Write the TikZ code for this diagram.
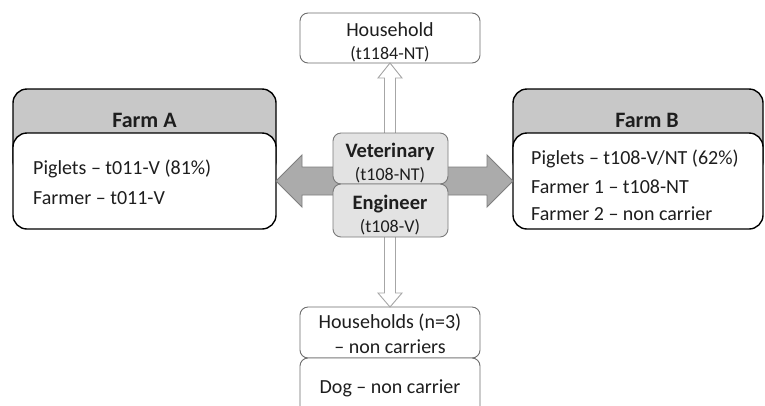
\documentclass[tikz,border=0pt]{standalone}
\usepackage{fontspec}
\setmainfont{Carlito}
\usetikzlibrary{calc}
\definecolor{headgray}{HTML}{C8C8C8}
\definecolor{cfill}{HTML}{E3E3E3}
\definecolor{cdraw}{HTML}{7A7A7A}
\definecolor{hdraw}{HTML}{6E6E6E}
\definecolor{harrowfill}{HTML}{ABABAB}
\definecolor{harrowdraw}{HTML}{7F7F7F}
\definecolor{varrowdraw}{HTML}{A6A6A6}
\definecolor{txt}{HTML}{1E1E1E}
\tikzset{
  shapebox/.style={inner sep=0pt, outer sep=0pt, anchor=north west},
  farmhead/.style={shapebox, draw=black, line width=1.4bp, fill=headgray, rounded corners=14bp},
  farmbody/.style={shapebox, draw=black, line width=1.4bp, fill=white, rounded corners=14bp},
  hbox/.style={shapebox, draw=hdraw, line width=0.9bp, fill=white, rounded corners=8bp},
  cbox/.style={shapebox, draw=cdraw, line width=0.9bp, fill=cfill, rounded corners=8bp},
  harrow/.style={draw=harrowdraw, line width=0.9bp, fill=harrowfill, line join=miter},
  varrow/.style={draw=varrowdraw, line width=0.9bp, fill=white, line join=miter},
  bodytext/.style={inner sep=0pt, text=txt, font=\fontsize{20bp}{24bp}\selectfont},
  smalltext/.style={inner sep=0pt, text=txt, font=\fontsize{18bp}{22bp}\selectfont},
  titletext/.style={inner sep=0pt, text=txt, font=\fontsize{22bp}{26bp}\selectfont\bfseries},
  roletext/.style={inner sep=0pt, text=txt, font=\fontsize{20.5bp}{24bp}\selectfont\bfseries},
}
\begin{document}
\begin{tikzpicture}[x=1bp, y=-1bp]
\clip (0,0) rectangle (765,405);
\fill[white] (0,0) rectangle (765,405);

% boxes (shapes only)
\node[farmhead, minimum width=263bp, minimum height=86bp] (headA) at (13,89) {};
\node[farmbody, minimum width=263bp, minimum height=96bp] (farmA) at (13,133) {};
\node[farmhead, minimum width=250bp, minimum height=86bp] (headB) at (513,89) {};
\node[farmbody, minimum width=250bp, minimum height=96bp] (farmB) at (513,133) {};
\node[hbox, minimum width=180bp, minimum height=50bp] (hh) at (300,13) {};
\node[hbox, minimum width=180bp, minimum height=51bp] (hs) at (300,307) {};
\node[hbox, minimum width=180bp, minimum height=70bp] (dog) at (300,358) {};

% block arrows
\draw[harrow] (farmA.east) -- ++(26,-26) -- ++(0,12)
  -- ($(farmB.west)+(-26,-14)$) -- ++(0,-12) -- (farmB.west)
  -- ++(-26,26) -- ++(0,-12) -- ($(farmA.east)+(26,14)$) -- ++(0,12) -- cycle;
\draw[varrow] (hh.south) -- ++(12,15) -- ++(-6.5,0)
  -- ($(hs.north)+(5.5,-14)$) -- ++(6.5,0) -- (hs.north)
  -- ++(-12,-14) -- ++(6.5,0) -- ($(hh.south)+(-5.5,15)$) -- ++(-6.5,0) -- cycle;

% central boxes
\node[cbox, minimum width=115bp, minimum height=51bp] (vet) at (333,133) {};
\node[cbox, minimum width=115bp, minimum height=53bp] (eng) at (333,184) {};

% texts
\node[titletext, anchor=base] (tA) at (144.5,127.3) {Farm A};
\node[bodytext, anchor=base west] (a1) at (33,174.3) {Piglets -- t011-V (81\%)};
\node[bodytext, anchor=base west] (a2) at (33,204) {Farmer -- t011-V};

\node[titletext, anchor=base] (tB) at (647,127.3) {Farm B};
\node[bodytext, anchor=base west] (b1) at (531,164) {Piglets -- t108-V/NT (62\%)};
\node[bodytext, anchor=base west] (b2) at (531,193.3) {Farmer 1 -- t108-NT};
\node[bodytext, anchor=base west] (b3) at (531,220) {Farmer 2 -- non carrier};

\node[bodytext, anchor=base] (h1) at (390,36.7) {Household};
\node[smalltext, anchor=base] (h2) at (390,59.5) {(t1184-NT)};

\node[roletext, anchor=base] (v1) at (390,157.3) {Veterinary};
\node[smalltext, anchor=base] (v2) at (390,180) {(t108-NT)};
\node[roletext, anchor=base] (e1) at (390,209) {Engineer};
\node[smalltext, anchor=base] (e2) at (390,232) {(t108-V)};

\node[bodytext, anchor=base] (s1) at (390,328) {Households (n=3)};
\node[bodytext, anchor=base] (s2) at (390,353) {-- non carriers};
\node[bodytext, anchor=base] (d1) at (390,393) {Dog -- non carrier};
\end{tikzpicture}
\end{document}
